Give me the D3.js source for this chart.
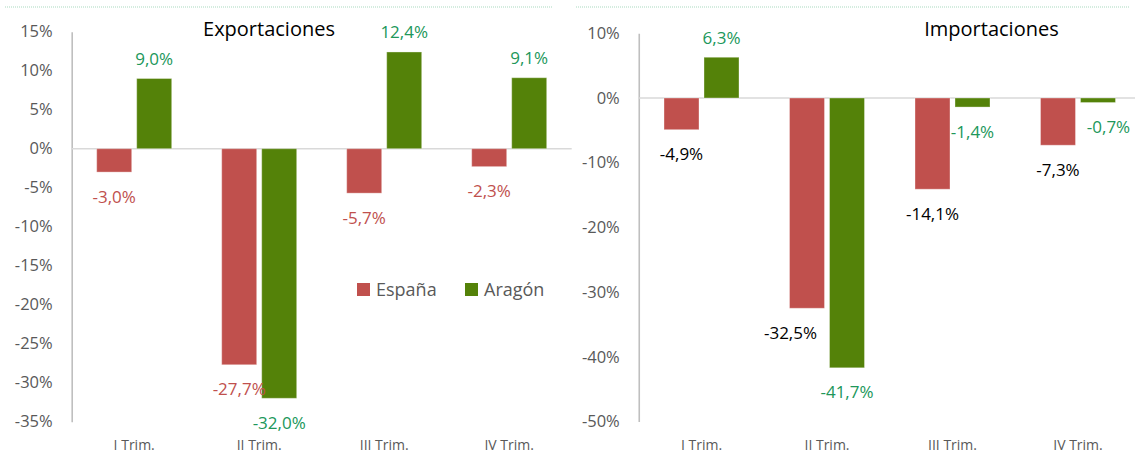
<!DOCTYPE html>
<html>
<head>
<meta charset="utf-8">
<script src="https://cdn.jsdelivr.net/npm/d3@7"></script>
<style>
  body { margin: 0; background: #fff; }
  svg { display: block; font-family: "Open Sans", "Noto Sans", sans-serif; }
</style>
</head>
<body>
<div class="chart"></div>
<script>
// data
const quarters = ["I Trim.", "II Trim.", "III Trim.", "IV Trim."];
const seriesNames = ["España", "Aragón"];
const exportEspana = [-3.0, -27.7, -5.7, -2.3];
const exportAragon = [9.0, -32.0, 12.4, 9.1];
const importEspana = [-4.9, -32.5, -14.1, -7.3];
const importAragon = [6.3, -41.7, -1.4, -0.7];
const exportTicks = [15, 10, 5, 0, -5, -10, -15, -20, -25, -30, -35];
const importTicks = [10, 0, -10, -20, -30, -40, -50];

const width = 1135, height = 454;
const barColors = {"España": "#C0504D", "Aragón": "#548209"};
const labelGreen = "#20975A";

// spanish number format: decimal comma
const es = d3.formatLocale({decimal: ",", thousands: ".", grouping: [3], currency: ["", "€"], minus: "-"});
const fmtLabel = v => es.format(".1f")(v) + "%";
const fmtTick = v => es.format("d")(v) + "%";

const svg = d3.select(".chart")
    .append("svg")
    .attr("width", width)
    .attr("height", height);

svg.append("rect").attr("width", width).attr("height", height).attr("fill", "#fff");

// faint dotted border at top of each chart
[[5, 553], [576, 1130]].forEach(([a, b]) => {
    svg.append("line")
        .attr("x1", a).attr("x2", b)
        .attr("y1", 7).attr("y2", 7)
        .attr("stroke", "#a9d9bf")
        .attr("stroke-width", 1)
        .attr("stroke-dasharray", "1,1");
});

function drawPanel(cfg) {
    const rows = quarters.map((q, i) => ({q, values: [
        {name: seriesNames[0], v: cfg.espana[i]},
        {name: seriesNames[1], v: cfg.aragon[i]}
    ]}));

    const x = d3.scaleBand().domain(quarters).range(cfg.xRange);
    const xSub = d3.scaleBand().domain(seriesNames).range([0, 75]).paddingInner(0.125);
    const y = d3.scaleLinear().domain(cfg.yDomain).range(cfg.yRange);

    const g = svg.append("g");

    // y axis
    g.append("g")
        .attr("transform", `translate(${cfg.xRange[0]},0)`)
        .call(d3.axisLeft(y).tickValues(cfg.ticks).tickFormat(fmtTick).tickSize(0).tickPadding(19))
        .call(a => a.select(".domain").attr("stroke", "#bfbfbf").attr("stroke-width", 1.6))
        .call(a => a.selectAll("text")
            .attr("font-family", "Open Sans")
            .attr("font-size", 16.5)
            .attr("fill", "#595959"));

    // category labels
    g.append("g")
        .attr("transform", `translate(0,${cfg.yRange[0]})`)
        .call(d3.axisBottom(x).tickSize(0).tickPadding(18.5))
        .call(a => a.select(".domain").remove())
        .call(a => a.selectAll("text")
            .attr("font-family", "Open Sans")
            .attr("font-size", 14)
            .attr("fill", "#595959"));

    // zero line
    g.append("line")
        .attr("x1", cfg.xRange[0]).attr("x2", cfg.xRange[1])
        .attr("y1", y(0)).attr("y2", y(0))
        .attr("stroke", "#d9d9d9")
        .attr("stroke-width", 1.6);

    const groups = g.selectAll(".grp")
        .data(rows)
        .join("g")
        .attr("class", "grp")
        .attr("transform", d => `translate(${x(d.q) + x.bandwidth() / 2 - 37.5},0)`);

    groups.selectAll("rect")
        .data(d => d.values)
        .join("rect")
        .attr("x", d => xSub(d.name))
        .attr("width", xSub.bandwidth())
        .attr("y", d => y(Math.max(0, d.v)))
        .attr("height", d => Math.abs(y(d.v) - y(0)))
        .attr("fill", d => barColors[d.name])
        .attr("stroke", "rgba(255,255,255,0.35)")
        .attr("stroke-width", 1);

    groups.selectAll("text.val")
        .data(d => d.values.map(v => ({...v, q: d.q})))
        .join("text")
        .attr("class", "val")
        .attr("x", d => xSub(d.name) + xSub.bandwidth() / 2 + (cfg.nudge[d.name + "|" + d.q] || 0))
        .attr("y", d => d.v >= 0 ? y(d.v) - 13.5 : y(d.v) + 30.5)
        .attr("text-anchor", "middle")
        .attr("font-size", 17)
        .attr("fill", d => d.name === "España" ? cfg.espanaLabel : labelGreen)
        .text(d => fmtLabel(d.v));

    // title
    g.append("text")
        .attr("x", cfg.titleX)
        .attr("y", 36)
        .attr("text-anchor", "middle")
        .attr("font-size", 20)
        .attr("fill", "#000")
        .text(cfg.title);
}

drawPanel({
    title: "Exportaciones", titleX: 269,
    espana: exportEspana, aragon: exportAragon, ticks: exportTicks,
    xRange: [71.7, 571.7], yDomain: [-35, 15], yRange: [421.7, 31.7],
    espanaLabel: "#C0504D", nudge: {}
});

drawPanel({
    title: "Importaciones", titleX: 991.5,
    espana: importEspana, aragon: importAragon, ticks: importTicks,
    xRange: [638.75, 1140.75], yDomain: [-50, 10], yRange: [421.5, 33.3],
    espanaLabel: "#000", nudge: {"España|II Trim.": -16.5, "Aragón|IV Trim.": 10.5}
});

// legend (inside the export panel)
const legend = svg.append("g")
    .selectAll("g")
    .data(seriesNames)
    .join("g")
    .attr("transform", (d, i) => `translate(${357 + i * 108},283)`);

legend.append("rect")
    .attr("width", 13).attr("height", 13)
    .attr("fill", d => barColors[d]);

legend.append("text")
    .attr("x", 19)
    .attr("y", 13)
    .attr("font-size", 18)
    .attr("fill", "#595959")
    .text(d => d);
</script>
</body>
</html>
